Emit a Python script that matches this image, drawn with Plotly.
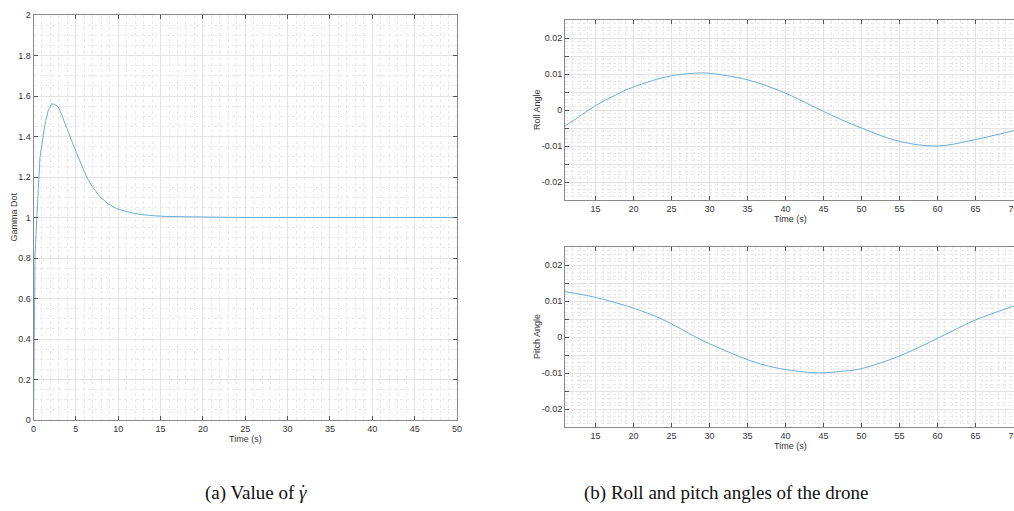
import plotly.graph_objects as go

W, H = 1014, 511

# ---------------- data ----------------
t_gamma = [0, 0.18, 0.38, 0.6, 0.77, 1.0, 1.35, 1.75, 2.15, 2.5, 2.93, 3.4, 3.92, 4.5,
           5.1, 5.7, 6.28, 7.0, 7.85, 8.8, 9.8, 11.8, 13.7, 15.7, 19.6, 25, 30, 40, 50]
gamma_dot = [0, 0.81, 0.99, 1.2, 1.30, 1.36, 1.46, 1.53, 1.562, 1.558, 1.546, 1.50, 1.447, 1.38,
             1.316, 1.255, 1.20, 1.15, 1.102, 1.068, 1.044, 1.02, 1.01, 1.005, 1.002, 1.0, 1.0, 1.0, 1.0]

t_roll = [11, 13, 15, 17.5, 20, 25, 29, 30, 35, 40, 45, 50, 55, 60, 65, 70.1]
roll = [-0.0045, -0.0016, 0.0012, 0.0040, 0.0064, 0.0095, 0.0103, 0.0102, 0.0084, 0.0047,
        -0.0004, -0.0050, -0.0087, -0.0100, -0.0082, -0.0057]

t_pitch = [11, 15, 20, 23.5, 26.1, 28.8, 31.4, 34, 36.7, 39.3, 41.9, 44.5, 47.2, 49.8,
           55, 60, 65, 70.1]
pitch = [0.0127, 0.0111, 0.0081, 0.0053, 0.0025, -0.0006, -0.0031, -0.0054, -0.0074, -0.0087,
         -0.0095, -0.0099, -0.0095, -0.0088, -0.0052, -0.0003, 0.0048, 0.0087]

gamma_yticks = [0, 0.2, 0.4, 0.6, 0.8, 1, 1.2, 1.4, 1.6, 1.8, 2]
gamma_xticks = [0, 5, 10, 15, 20, 25, 30, 35, 40, 45, 50]
angle_yticks = [-0.02, -0.015, -0.01, -0.005, 0, 0.005, 0.01, 0.015, 0.02]
angle_ylabels = ["-0.02", "", "-0.01", "", "0", "", "0.01", "", "0.02"]
angle_xticks = [15, 20, 25, 30, 35, 40, 45, 50, 55, 60, 65, 70]

LINE = "#6aaed6"
AXC = "#8a8a8a"
GRID = "#e3e3e3"
MINOR = "#e8e8e8"
TFONT = dict(family="Liberation Sans, Arial, sans-serif", size=9, color="#333333")


def px_x(p):
    return p / W


def px_y(p):
    return 1 - p / H


fig = go.Figure()
fig.add_trace(go.Scatter(x=t_gamma, y=gamma_dot, mode="lines",
                         line=dict(color=LINE, width=1.0), xaxis="x", yaxis="y", showlegend=False))
fig.add_trace(go.Scatter(x=t_roll, y=roll, mode="lines", line_shape="spline",
                         line=dict(color=LINE, width=1.0), xaxis="x2", yaxis="y2", showlegend=False))
fig.add_trace(go.Scatter(x=t_pitch, y=pitch, mode="lines", line_shape="spline",
                         line=dict(color=LINE, width=1.0), xaxis="x3", yaxis="y3", showlegend=False))


def axis(domain, rng, anchor, tickvals, ticktext=None, mirror="ticks", minor_dtick=None, minor_tick0=0):
    d = dict(domain=domain, range=rng, anchor=anchor, tickmode="array", tickvals=tickvals,
             showline=True, linecolor=AXC, linewidth=1, mirror=mirror,
             ticks="inside", ticklen=4, tickcolor="#555555", tickwidth=1,
             showgrid=True, gridcolor=GRID, gridwidth=1, zeroline=False,
             tickfont=TFONT, automargin=False, ticklabeloverflow="allow",
             minor=dict(tickmode="linear", tick0=minor_tick0, dtick=minor_dtick, showgrid=True,
                        gridcolor=MINOR, griddash="dot", gridwidth=1, ticks=""))
    if ticktext is not None:
        d["ticktext"] = ticktext
    return d


left_x = [px_x(33.5), px_x(457)]
left_y = [px_y(420), px_y(15)]
right_x = [px_x(565), 1.0]
top_y = [px_y(200), px_y(20)]
bot_y = [px_y(427.3), px_y(247.3)]

fig.update_layout(
    width=W, height=H,
    margin=dict(l=0, r=0, t=0, b=0),
    paper_bgcolor="white", plot_bgcolor="white",
    xaxis=axis(left_x, [0, 50], "y", gamma_xticks, minor_dtick=1),
    yaxis=axis(left_y, [0, 2], "x", gamma_yticks, minor_dtick=0.05),
    xaxis2=axis(right_x, [11, 70.08], "y2", angle_xticks, minor_dtick=1),
    yaxis2=axis(top_y, [-0.025, 0.025], "x2", angle_yticks, angle_ylabels, mirror=False,
                minor_dtick=0.001),
    xaxis3=axis(right_x, [11, 70.08], "y3", angle_xticks, minor_dtick=1),
    yaxis3=axis(bot_y, [-0.025, 0.025], "x3", angle_yticks, angle_ylabels, mirror=False,
                minor_dtick=0.001),
)

ann = []


def label(text, x, y, angle=0, font=TFONT, xanchor="center"):
    ann.append(dict(text=text, x=px_x(x), y=px_y(y), xref="paper", yref="paper",
                    showarrow=False, textangle=angle, font=font, xanchor=xanchor, yanchor="middle"))


label("Gamma Dot", 13, 217.5, -90)
label("Time (s)", 245.5, 438.5)
label("Roll Angle", 537, 110, -90)
label("Time (s)", 790.5, 219)
label("Pitch Angle", 537, 337, -90)
label("Time (s)", 790, 446)

CFONT = dict(family="Liberation Serif, Times New Roman, serif", size=19, color="#111111")
label("(a) Value of <i>γ</i>", 309, 493, font=CFONT, xanchor="right")
label("˙", 302.5, 491, font=CFONT)
label("(b) Roll and pitch angles of the drone", 725.5, 493, font=CFONT)

fig.update_layout(annotations=ann)

fig.write_html(
    "out.html",
    config={"displayModeBar": False},
    post_script="document.body.style.margin='0';document.body.style.overflow='hidden';",
)
